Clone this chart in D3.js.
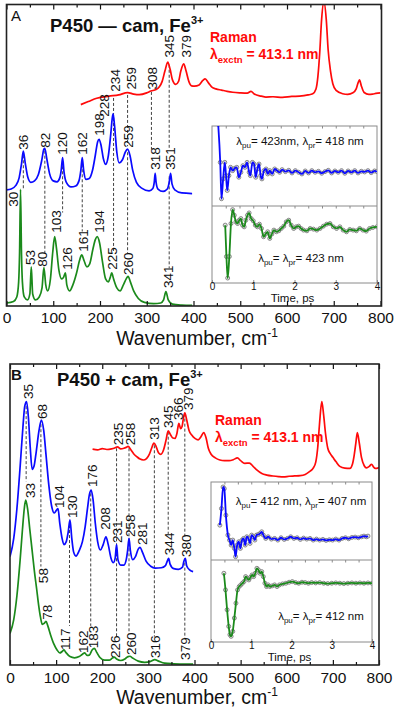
<!DOCTYPE html>
<html><head><meta charset="utf-8">
<script src="https://cdn.jsdelivr.net/npm/d3@7"></script>
<style>
body{margin:0;background:#fff}
svg{display:block}
text{font-family:Arial,"Liberation Sans",sans-serif}
</style></head>
<body><svg id="c" width="400" height="715"></svg>
<script>
// ---------------- DATA ----------------
const xMajor = [0,100,200,300,400,500,600,700,800];
const xMinor = [50,150,250,350,450,550,650,750];
const insetTicks = [0,1,2,3,4];

// Panel A (P450 - cam) spectra: [wavenumber, intensity]
const aGreen = [[0,1],[15,1.5],[22,3],[26,8],[28,18],[30,38.7],[32,18],[34,8],[38,3],[45,2],[50,4],[53,13],[56,4],[62,2],[70,3],[76,6],[80,12.7],[84,7],[88,5],[94,9],[99,18],[103,23],[107,19],[112,12],[118,9],[122,9.5],[126,11],[129,7],[135,5],[142,7],[150,11],[156,15],[161,17],[166,15],[172,13],[178,14],[185,19],[190,22],[194,23],[199,21],[205,15],[212,9],[218,8],[222,9.5],[225,11],[229,9],[236,6],[243,5],[250,7],[256,9],[260,9.8],[265,8],[272,5],[282,2.5],[295,1.2],[315,0.8],[330,1],[336,2],[341,4.8],[346,2],[355,0.6],[375,0.3],[397,0.2]];
const aBlue = [[0,38.5],[10,38.8],[20,40],[27,42.5],[32,47],[36,51.4],[40,47.5],[46,42.5],[52,41],[60,41.5],[68,43.5],[75,48],[80,52],[82,52.3],[86,49],[92,44],[100,41.5],[108,41.2],[114,42.5],[117,45],[120,49.2],[123,44.5],[128,41],[138,39.5],[148,39.8],[155,41.5],[159,45],[162,49.2],[165,45],[170,42],[177,42.3],[184,45],[190,50],[195,54.5],[198,55.3],[202,53.5],[207,49],[212,47],[218,50],[223,57],[226,62],[228,63.7],[231,60],[236,51],[241,47.5],[248,48.5],[254,51],[259,52],[264,50],[270,45],[278,41],[290,39],[305,38.2],[313,39],[316,41],[318,44],[320,41],[324,38.8],[335,38],[344,38.8],[348,41],[351,44],[354,40.5],[360,38.5],[375,37.5],[397,37.3]];
const aRed = [[159,66.8],[175,67.8],[193,68.9],[219,69.6],[240,70],[259,70.8],[272,70.3],[284,70.1],[300,70.7],[309,71.3],[320,71.8],[327,72.7],[333,74.5],[339,78],[345,80.9],[350,78.5],[355,75],[362,73.5],[368,74.5],[373,78],[379,80.3],[384,78],[390,74.5],[396,73],[402,72.9],[412,73.3],[420,74.8],[425,75.3],[432,74],[440,72.5],[448,72],[460,71.6],[472,71.2],[484,70.9],[500,70.7],[515,70.6],[523,71.2],[530,70.3],[545,69.6],[555,69.3],[570,69.4],[590,69.2],[610,69.5],[627,69.6],[645,70],[655,70.4],[662,72],[666,76],[670,84],[674,95],[679,101],[684,95],[688,85],[693,78],[698,73.7],[705,71.5],[719,70.4],[730,70.2],[741,70.7],[748,72],[752,74],[755,75],[759,73],[765,70.8],[775,70.2],[783,70.3],[790,70.5],[800,70.7]];
// peak labels: [text, wavenumber, intensity at label start]
const aBlueLabels = [["36",35.3,51.8],["82",82,52.5],["120",119,50.2],["162",161.5,50.2],["198",198,56.5],["228",208.5,62.8],["259",260,52.5],["318",317.6,45.2],["351",350,45.2]];
const aGreenLabels = [["30",14,32.9],["53",50,13.6],["80",76,13],["103",106,24.3],["126",129,12],["161",163.6,18],["194",198,24.3],["225",225.7,12],["260",260,10.3],["341",345.5,6]];
const aRedLabels = [["234",232,71.1],["259",266,71.8],["308",311,71.8],["345",347.6,82.4],["379",384,82.4]];
// dashed guide segments: [wavenumber, from, to]
const aDashes = [[36,50,38.5],[82,51.5,17.5],[120,48,31],[162,47,24.7],[229,69,18],[259,70,53],[259,51,17.5],[310,71,52],[348,80,52],[348,43,12.5]];

// Panel B (P450 + cam)
const bBlue = [[0,36],[8,42],[15,52],[22,66],[28,79],[32,86],[36,87.5],[40,82],[44,72],[48,65],[52,66],[57,71],[63,78],[68,81.4],[73,78],[78,70],[84,60],[90,53],[96,50.5],[101,51.5],[104,52],[108,47],[113,42],[117,40],[122,41],[126,44],[130,48.2],[134,42],[138,37.5],[143,36.2],[150,38],[157,41],[163,46],[168,52],[172,56.5],[176,58.1],[180,55],[185,47],[190,41],[196,38.2],[202,40],[208,42.6],[213,40],[219,35.5],[224,34],[228,35.5],[231,40],[234,35],[240,33.2],[247,33.2],[252,35],[255,38],[258,42.1],[261,38],[266,35],[272,36],[278,38.5],[282,39.1],[287,37.5],[295,34.5],[305,32.8],[315,32.2],[328,32.3],[337,33],[341,34.5],[344,35.4],[347,33.5],[355,32],[365,31.8],[374,32.5],[377,34.5],[380,35.4],[383,33],[390,31.5],[397,31]];
const bGreen = [[0,10.5],[8,15],[15,23],[22,35],[27,45],[31,52],[34,54.8],[38,52],[43,45],[48,38],[53,31],[58,25],[62,20],[66,16],[70,13.5],[74,13.8],[78,14.5],[82,13],[88,10],[95,7],[102,5],[108,4],[113,4.5],[117,5],[121,4.2],[130,2.8],[140,2.4],[150,2.8],[157,3.6],[162,4],[167,3.2],[172,3.3],[178,5],[183,5.5],[188,4.2],[195,2.5],[205,1.6],[215,1.6],[222,2.3],[226,2.6],[231,2],[240,1.5],[250,2.1],[256,2.8],[260,2.9],[266,2.3],[278,1.3],[292,0.9],[305,1.2],[314,1.8],[322,1.3],[335,0.6],[355,0.4],[380,0.3],[397,0.3]];
const bRed = [[179,71.7],[190,71.5],[200,71.9],[210,71.6],[220,71.8],[227,72.1],[233,72.5],[240,71.8],[247,72],[252,72.3],[256,72.6],[262,71.5],[268,70.2],[275,69.2],[282,68.4],[289,68.1],[296,68.6],[302,70],[307,72],[312,73.7],[317,72.5],[322,70.5],[327,70],[333,71.5],[338,74.5],[343,77.8],[348,76.5],[353,75.4],[358,75.3],[362,77],[366,80.3],[370,78.5],[373,79.2],[376,82],[379,83.8],[383,81.5],[388,78],[394,76.4],[401,75.3],[408,74.8],[414,75.8],[420,77.2],[425,75.5],[430,72],[436,70],[445,68.8],[455,68.1],[465,67.9],[475,67.9],[484,68.2],[493,68.8],[500,67.9],[509,67],[519,67.1],[527,66],[535,64.8],[546,63.6],[557,63.1],[570,62.8],[582,62.6],[593,62.5],[605,62.7],[617,62.8],[629,62.9],[640,63.3],[650,64.3],[657,65.3],[663,67.5],[667,72],[671,80],[676,87.5],[680,83],[684,77],[689,72],[694,70.3],[700,69],[707,67.5],[715,66],[726,65.4],[737,65.3],[742,66.5],[746,69.5],[750,74],[753,77.2],[757,74],[762,69],[768,66.2],[773,65.5],[779,66],[784,66.7],[788,65.8],[792,65.3],[800,65.6]];
const bBlueLabels = [["35",39,88.4],["68",69.4,81.7],["104",106,52.2],["130",134.4,48.8],["176",177.8,59.1],["208",206,44.9],["231",232,40.5],["258",260,42.5],["281",286,39.9],["344",344.7,36.5],["380",381.5,35.9]];
const bGreenLabels = [["33",43.4,55.5],["58",71.5,27.2],["78",80.2,15],["117",119,5],["162",158,4],["183",180,5.6],["226",227.6,2.3],["260",262,3.3],["316",314,2.3],["379",379.4,1.7]];
const bRedLabels = [["235",234,73],["258",260,73],["313",312,74.8],["345",342.5,78.7],["366",364,81.4],["379",386,84.7]];
const bDashes = [[35,86,61],[67,80,32.7],[129,46.5,13],[175,57,13],[231,72,8.9],[258,72,10.3],[313,73,9.4],[343,77.5,43.5],[379,83.5,42.5],[379,34,9]];

// Inset traces: [time ps, signal]
const aInsetBlue = [[0.15,1.45],[0.2,0.3],[0.23,-0.8],[0.27,-0.2],[0.31,0.3],[0.34,-0.1],[0.37,-0.55],[0.41,-0.1],[0.45,0.15],[0.5,0.05],[0.55,0.12],[0.6,0.15],[0.65,-0.15],[0.7,0],[0.75,0.2],[0.8,0.15],[0.85,0.3],[0.9,0],[0.93,-0.1],[0.98,0.3],[1.02,0.25],[1.06,-0.15],[1.1,0.1],[1.14,0.25],[1.18,-0.1],[1.21,-0.2],[1.26,0.05],[1.31,0.1],[1.35,-0.05],[1.4,0.05],[1.46,-0.05],[1.52,0.1],[1.58,0.05],[1.64,0],[1.7,0.08],[1.78,0.02],[1.86,0.06],[1.94,-0.02],[2.02,0.05],[2.1,0],[2.18,-0.05],[2.26,0.04],[2.34,-0.02],[2.42,0.05],[2.5,0],[2.58,0.03],[2.66,-0.03],[2.74,0.02],[2.82,0.06],[2.9,-0.02],[2.98,0.04],[3.06,0],[3.14,0.05],[3.22,-0.03],[3.3,0.04],[3.38,0],[3.46,0.05],[3.54,-0.02],[3.62,0.03],[3.7,0.01],[3.78,0.05],[3.86,-0.01],[3.94,0.04],[4,0.02]];
const aInsetGreen = [[0.32,0.15],[0.35,-0.8],[0.38,-1.45],[0.42,-0.8],[0.46,0.2],[0.5,0.62],[0.54,0.45],[0.58,0.25],[0.62,0.2],[0.66,0.3],[0.7,0.35],[0.74,0.15],[0.78,0.1],[0.82,0.3],[0.86,0.45],[0.9,0.52],[0.95,0.35],[1,0.28],[1.05,0.15],[1.1,0.1],[1.15,0.18],[1.2,0.05],[1.25,-0.2],[1.3,-0.12],[1.35,-0.05],[1.4,-0.25],[1.45,-0.12],[1.5,0],[1.56,-0.05],[1.62,-0.02],[1.68,0.05],[1.74,0.12],[1.8,0.25],[1.86,0.3],[1.92,0.15],[1.98,0.05],[2.04,0.1],[2.1,0.12],[2.16,0.05],[2.22,0],[2.3,-0.02],[2.38,0.05],[2.46,0.03],[2.54,0],[2.62,0.05],[2.7,0.12],[2.78,0.18],[2.86,0.2],[2.94,0.1],[3.02,0.05],[3.1,0.1],[3.18,0],[3.26,-0.05],[3.34,0.02],[3.42,0],[3.5,-0.02],[3.58,0.05],[3.66,0],[3.74,-0.03],[3.82,0.05],[3.9,0.08],[4,0.1]];
const bInsetBlue = [[0.22,0.4],[0.26,0.9],[0.3,1.55],[0.33,1.5],[0.37,0.7],[0.42,0.1],[0.46,-0.05],[0.5,-0.2],[0.54,-0.05],[0.58,-0.3],[0.61,-0.55],[0.65,-0.2],[0.69,-0.1],[0.73,-0.3],[0.77,-0.05],[0.81,0],[0.85,-0.2],[0.89,0.05],[0.93,0],[0.97,-0.15],[1.01,0.1],[1.05,0.05],[1.09,-0.05],[1.13,0.1],[1.18,0.12],[1.22,0.15],[1.26,0.2],[1.3,0.1],[1.36,0],[1.42,0.05],[1.5,-0.02],[1.58,0],[1.66,-0.05],[1.74,0.02],[1.82,-0.03],[1.9,0],[1.98,0.05],[2.06,0],[2.14,0.02],[2.22,-0.03],[2.3,0.01],[2.38,-0.02],[2.46,0],[2.54,-0.05],[2.62,-0.02],[2.7,-0.05],[2.78,-0.03],[2.86,-0.06],[2.94,-0.04],[3.02,-0.05],[3.1,-0.02],[3.18,-0.05],[3.26,0],[3.34,0.02],[3.42,-0.01],[3.5,0.03],[3.58,0.04],[3.66,0.02],[3.74,0.05],[3.8,0.07],[3.86,0.05],[3.9,0.07]];
const bInsetGreen = [[0.32,0.3],[0.36,-0.2],[0.4,-0.8],[0.44,-1.3],[0.47,-1.55],[0.5,-1.6],[0.54,-1.45],[0.58,-1.05],[0.62,-0.6],[0.66,-0.2],[0.7,-0.1],[0.74,-0.05],[0.78,0],[0.82,0.05],[0.86,0.2],[0.9,0.15],[0.94,0.1],[0.98,0.18],[1.02,0.25],[1.06,0.2],[1.1,0.3],[1.14,0.45],[1.18,0.4],[1.22,0.3],[1.26,0.35],[1.3,0.2],[1.34,0],[1.38,-0.1],[1.42,-0.05],[1.46,-0.1],[1.52,-0.08],[1.58,-0.05],[1.64,-0.1],[1.7,-0.05],[1.78,-0.02],[1.86,0],[1.94,0.03],[2.02,0.05],[2.1,0.02],[2.18,0],[2.26,0.03],[2.34,0.02],[2.42,0],[2.5,0.02],[2.6,0.01],[2.7,0.02],[2.8,0],[2.9,-0.01],[3,0],[3.1,0.01],[3.2,0],[3.3,-0.01],[3.4,0],[3.5,0.01],[3.6,0],[3.7,0.01],[3.8,0],[3.9,0.01],[4,0]];

// ---------------- DRAW ----------------
const RED = "#ff0a0a", BLUE = "#0a0aff", GREEN = "#1b8a1b";
const svg = d3.select("#c");

function panel(P) {
  const g = svg.append("g");
  const x = d3.scaleLinear().domain([0, 800]).range([P.x0, P.x1]);
  const y = d3.scaleLinear().domain([0, 100]).range([P.yb, P.yt]);
  const cid = "clip" + P.id;
  svg.append("clipPath").attr("id", cid).append("rect")
    .attr("x", P.x0).attr("y", P.yt).attr("width", P.x1 - P.x0).attr("height", P.yb - P.yt);
  const body = g.append("g").attr("clip-path", `url(#${cid})`);

  body.selectAll("line.d").data(P.dashes).join("line")
    .attr("x1", d => x(d[0])).attr("x2", d => x(d[0]))
    .attr("y1", d => y(d[1])).attr("y2", d => y(d[2]))
    .attr("stroke", "#111").attr("stroke-width", 0.8).attr("stroke-dasharray", "3,2");

  const line = d3.line().x(d => x(d[0])).y(d => y(d[1])).curve(d3.curveMonotoneX);
  [[P.red, RED], [P.blue, BLUE], [P.green, GREEN]].forEach(([s, c]) => {
    body.append("path").datum(s).attr("d", line).attr("fill", "none")
      .attr("stroke", c).attr("stroke-width", 1.7).attr("stroke-linejoin", "round");
  });

  const labs = [].concat(P.redL, P.blueL, P.greenL);
  g.selectAll("text.pk").data(labs).join("text")
    .attr("transform", d => `translate(${x(d[1])},${y(d[2])}) rotate(-90)`)
    .attr("dy", "0.36em").attr("font-size", 13.5).attr("fill", "#111").text(d => d[0]);

  const axB = g.append("g").attr("transform", `translate(0,${P.yb})`)
    .call(d3.axisBottom(x).tickValues(xMajor).tickSizeInner(-5).tickSizeOuter(0).tickPadding(P.pad));
  axB.select(".domain").remove();
  axB.selectAll("text").attr("font-size", 15.5).attr("font-family", "Arial, Liberation Sans, sans-serif").attr("fill", "#111");
  const axBm = g.append("g").attr("transform", `translate(0,${P.yb})`)
    .call(d3.axisBottom(x).tickValues(xMinor).tickSizeInner(-3).tickSizeOuter(0).tickFormat(""));
  axBm.select(".domain").remove();
  const axT = g.append("g").attr("transform", `translate(0,${P.yt})`)
    .call(d3.axisTop(x).tickValues(xMajor).tickSizeInner(-5).tickSizeOuter(0).tickFormat(""));
  axT.select(".domain").remove();
  const axTm = g.append("g").attr("transform", `translate(0,${P.yt})`)
    .call(d3.axisTop(x).tickValues(xMinor).tickSizeInner(-3).tickSizeOuter(0).tickFormat(""));
  axTm.select(".domain").remove();
  g.selectAll(".tick line").attr("stroke", "#111").attr("stroke-width", 1.2);

  g.append("rect").attr("x", P.x0).attr("y", P.yt).attr("width", P.fx1 - P.x0).attr("height", P.yb - P.yt)
    .attr("fill", "none").attr("stroke", "#222").attr("stroke-width", 1.6);

  const t = g.append("text").attr("x", 197).attr("y", P.titleY).attr("text-anchor", "middle")
    .attr("font-size", 19.5).attr("fill", "#111");
  t.append("tspan").text("Wavenumber, cm");
  t.append("tspan").attr("dy", -8).attr("font-size", 12).text("-1");

  g.append("text").attr("x", 11).attr("y", P.yt + 16).attr("font-size", 15)
    .attr("font-weight", P.letterBold ? "bold" : "normal").attr("fill", "#111").text(P.letter);
  const tt = g.append("text").attr("x", P.titleX).attr("y", P.headY).attr("font-size", 18.5)
    .attr("font-weight", "bold").attr("fill", "#111");
  tt.append("tspan").text(P.title);
  tt.append("tspan").attr("dy", -8).attr("font-size", 11).text("3+");

  g.append("text").attr("x", P.ramX).attr("y", P.ramY).attr("font-size", 14)
    .attr("font-weight", "bold").attr("fill", RED).text("Raman");
  const r2 = g.append("text").attr("x", P.ramX).attr("y", P.ramY + 17).attr("font-size", 14)
    .attr("font-weight", "bold").attr("fill", RED);
  r2.append("tspan").text("λ");
  r2.append("tspan").attr("dy", 4).attr("font-size", 9.5).text("exctn");
  r2.append("tspan").attr("dy", -4).text(" = 413.1 nm");
}

function inset(I) {
  const g = svg.append("g");
  const t = d3.scaleLinear().domain([0, 4]).range([I.x0, I.x1]);
  g.append("rect").attr("x", I.x0).attr("y", I.y0).attr("width", I.x1 - I.x0).attr("height", I.y2 - I.y0)
    .attr("fill", "#fff").attr("stroke", "#8a8a8a").attr("stroke-width", 1);
  g.append("line").attr("x1", I.x0).attr("x2", I.x1).attr("y1", I.y1).attr("y2", I.y1)
    .attr("stroke", "#8a8a8a").attr("stroke-width", 1);
  const cid = "ic" + I.id;
  svg.append("clipPath").attr("id", cid).append("rect")
    .attr("x", I.x0).attr("y", I.y0).attr("width", I.x1 - I.x0).attr("height", I.y2 - I.y0);

  const subs = [
    { data: I.top, dom: I.topDom, ya: I.y0, yb: I.y1, color: BLUE },
    { data: I.bot, dom: I.botDom, ya: I.y1, yb: I.y2, color: GREEN }
  ];
  subs.forEach(s => {
    const y = d3.scaleLinear().domain(s.dom).range([s.yb, s.ya]);
    const b = g.append("g").attr("clip-path", `url(#${cid})`);
    b.selectAll("circle").data(s.data).join("circle")
      .attr("cx", d => t(d[0])).attr("cy", d => y(d[1])).attr("r", 2)
      .attr("fill", "#e6e6e6").attr("stroke", "#6e6e6e").attr("stroke-width", 0.8);
    b.append("path").datum(s.data)
      .attr("d", d3.line().x(d => t(d[0])).y(d => y(d[1])).curve(d3.curveMonotoneX))
      .attr("fill", "none").attr("stroke", s.color).attr("stroke-width", 1.8);
    const tk = g.append("g").attr("transform", `translate(0,${s.ya})`)
      .call(d3.axisTop(t).tickValues(d3.range(1, 12).map(k => k / 3)).tickSizeInner(-2.5).tickSizeOuter(0).tickFormat(""));
    tk.select(".domain").remove();
    tk.selectAll("line").attr("stroke", "#8a8a8a");
  });
  const ax = g.append("g").attr("transform", `translate(0,${I.y2})`)
    .call(d3.axisBottom(t).tickValues(insetTicks).tickFormat(d3.format("d")).tickSizeInner(-3).tickSizeOuter(0).tickPadding(0));
  ax.select(".domain").remove();
  ax.selectAll("line").attr("stroke", "#8a8a8a");
  ax.selectAll("text").attr("font-size", 10).attr("font-family", "Arial, Liberation Sans, sans-serif").attr("fill", "#111");
  g.append("text").attr("x", (I.x0 + I.x1) / 2 - 2).attr("y", I.y2 + 19).attr("text-anchor", "middle")
    .attr("font-size", 11.5).attr("fill", "#111").text("Time, ps");

  function lam(parent, parts) {
    parts.forEach(p => {
      if (p.sub) parent.append("tspan").attr("dy", 3).attr("font-size", 8).text(p.sub);
      if (p.txt) parent.append("tspan").attr("dy", p.after ? -3 : 0).text(p.txt);
    });
  }
  const a1 = g.append("text").attr("x", I.l1x).attr("y", I.l1y).attr("text-anchor", "middle").attr("font-size", 11.5).attr("fill", "#111");
  lam(a1, [{ txt: "λ" }, { sub: "pu" }, { txt: "= " + I.pu + ",  λ", after: true }, { sub: "pr" }, { txt: "= " + I.pr, after: true }]);
  const a2 = g.append("text").attr("x", I.l2x).attr("y", I.l2y).attr("text-anchor", "middle").attr("font-size", 11.5).attr("fill", "#111");
  lam(a2, [{ txt: "λ" }, { sub: "pu" }, { txt: "= λ", after: true }, { sub: "pr" }, { txt: "= " + I.same, after: true }]);
}

panel({ id: "A", x0: 6.5, x1: 380.5, fx1: 381.5, yt: 4.5, yb: 306, pad: 6, titleY: 345,
  red: aRed, blue: aBlue, green: aGreen, redL: aRedLabels, blueL: aBlueLabels, greenL: aGreenLabels,
  dashes: aDashes, letter: "A", letterBold: false, title: "P450 — cam, Fe", titleX: 50, headY: 32,
  ramX: 210, ramY: 42 });
inset({ id: "A", x0: 212, x1: 377, y0: 126, y1: 206, y2: 283,
  top: aInsetBlue, topDom: [-1.02, 1.4], bot: aInsetGreen, botDom: [-1.6, 0.73],
  pu: "423nm", pr: "418 nm", same: "423 nm", l1x: 300, l1y: 145, l2x: 301, l2y: 262 });

panel({ id: "B", x0: 10, x1: 379, fx1: 379, yt: 364, yb: 665, pad: 7, titleY: 704,
  red: bRed, blue: bBlue, green: bGreen, redL: bRedLabels, blueL: bBlueLabels, greenL: bGreenLabels,
  dashes: bDashes, letter: "B", letterBold: true, title: "P450 + cam, Fe", titleX: 57, headY: 386,
  ramX: 215, ramY: 425 });
inset({ id: "B", x0: 211, x1: 372, y0: 482, y1: 560, y2: 642,
  top: bInsetBlue, topDom: [-0.65, 1.7], bot: bInsetGreen, botDom: [-1.77, 0.7],
  pu: "412 nm", pr: "407 nm", same: "412 nm", l1x: 301, l1y: 505, l2x: 321, l2y: 620 });
</script>
</body></html>
